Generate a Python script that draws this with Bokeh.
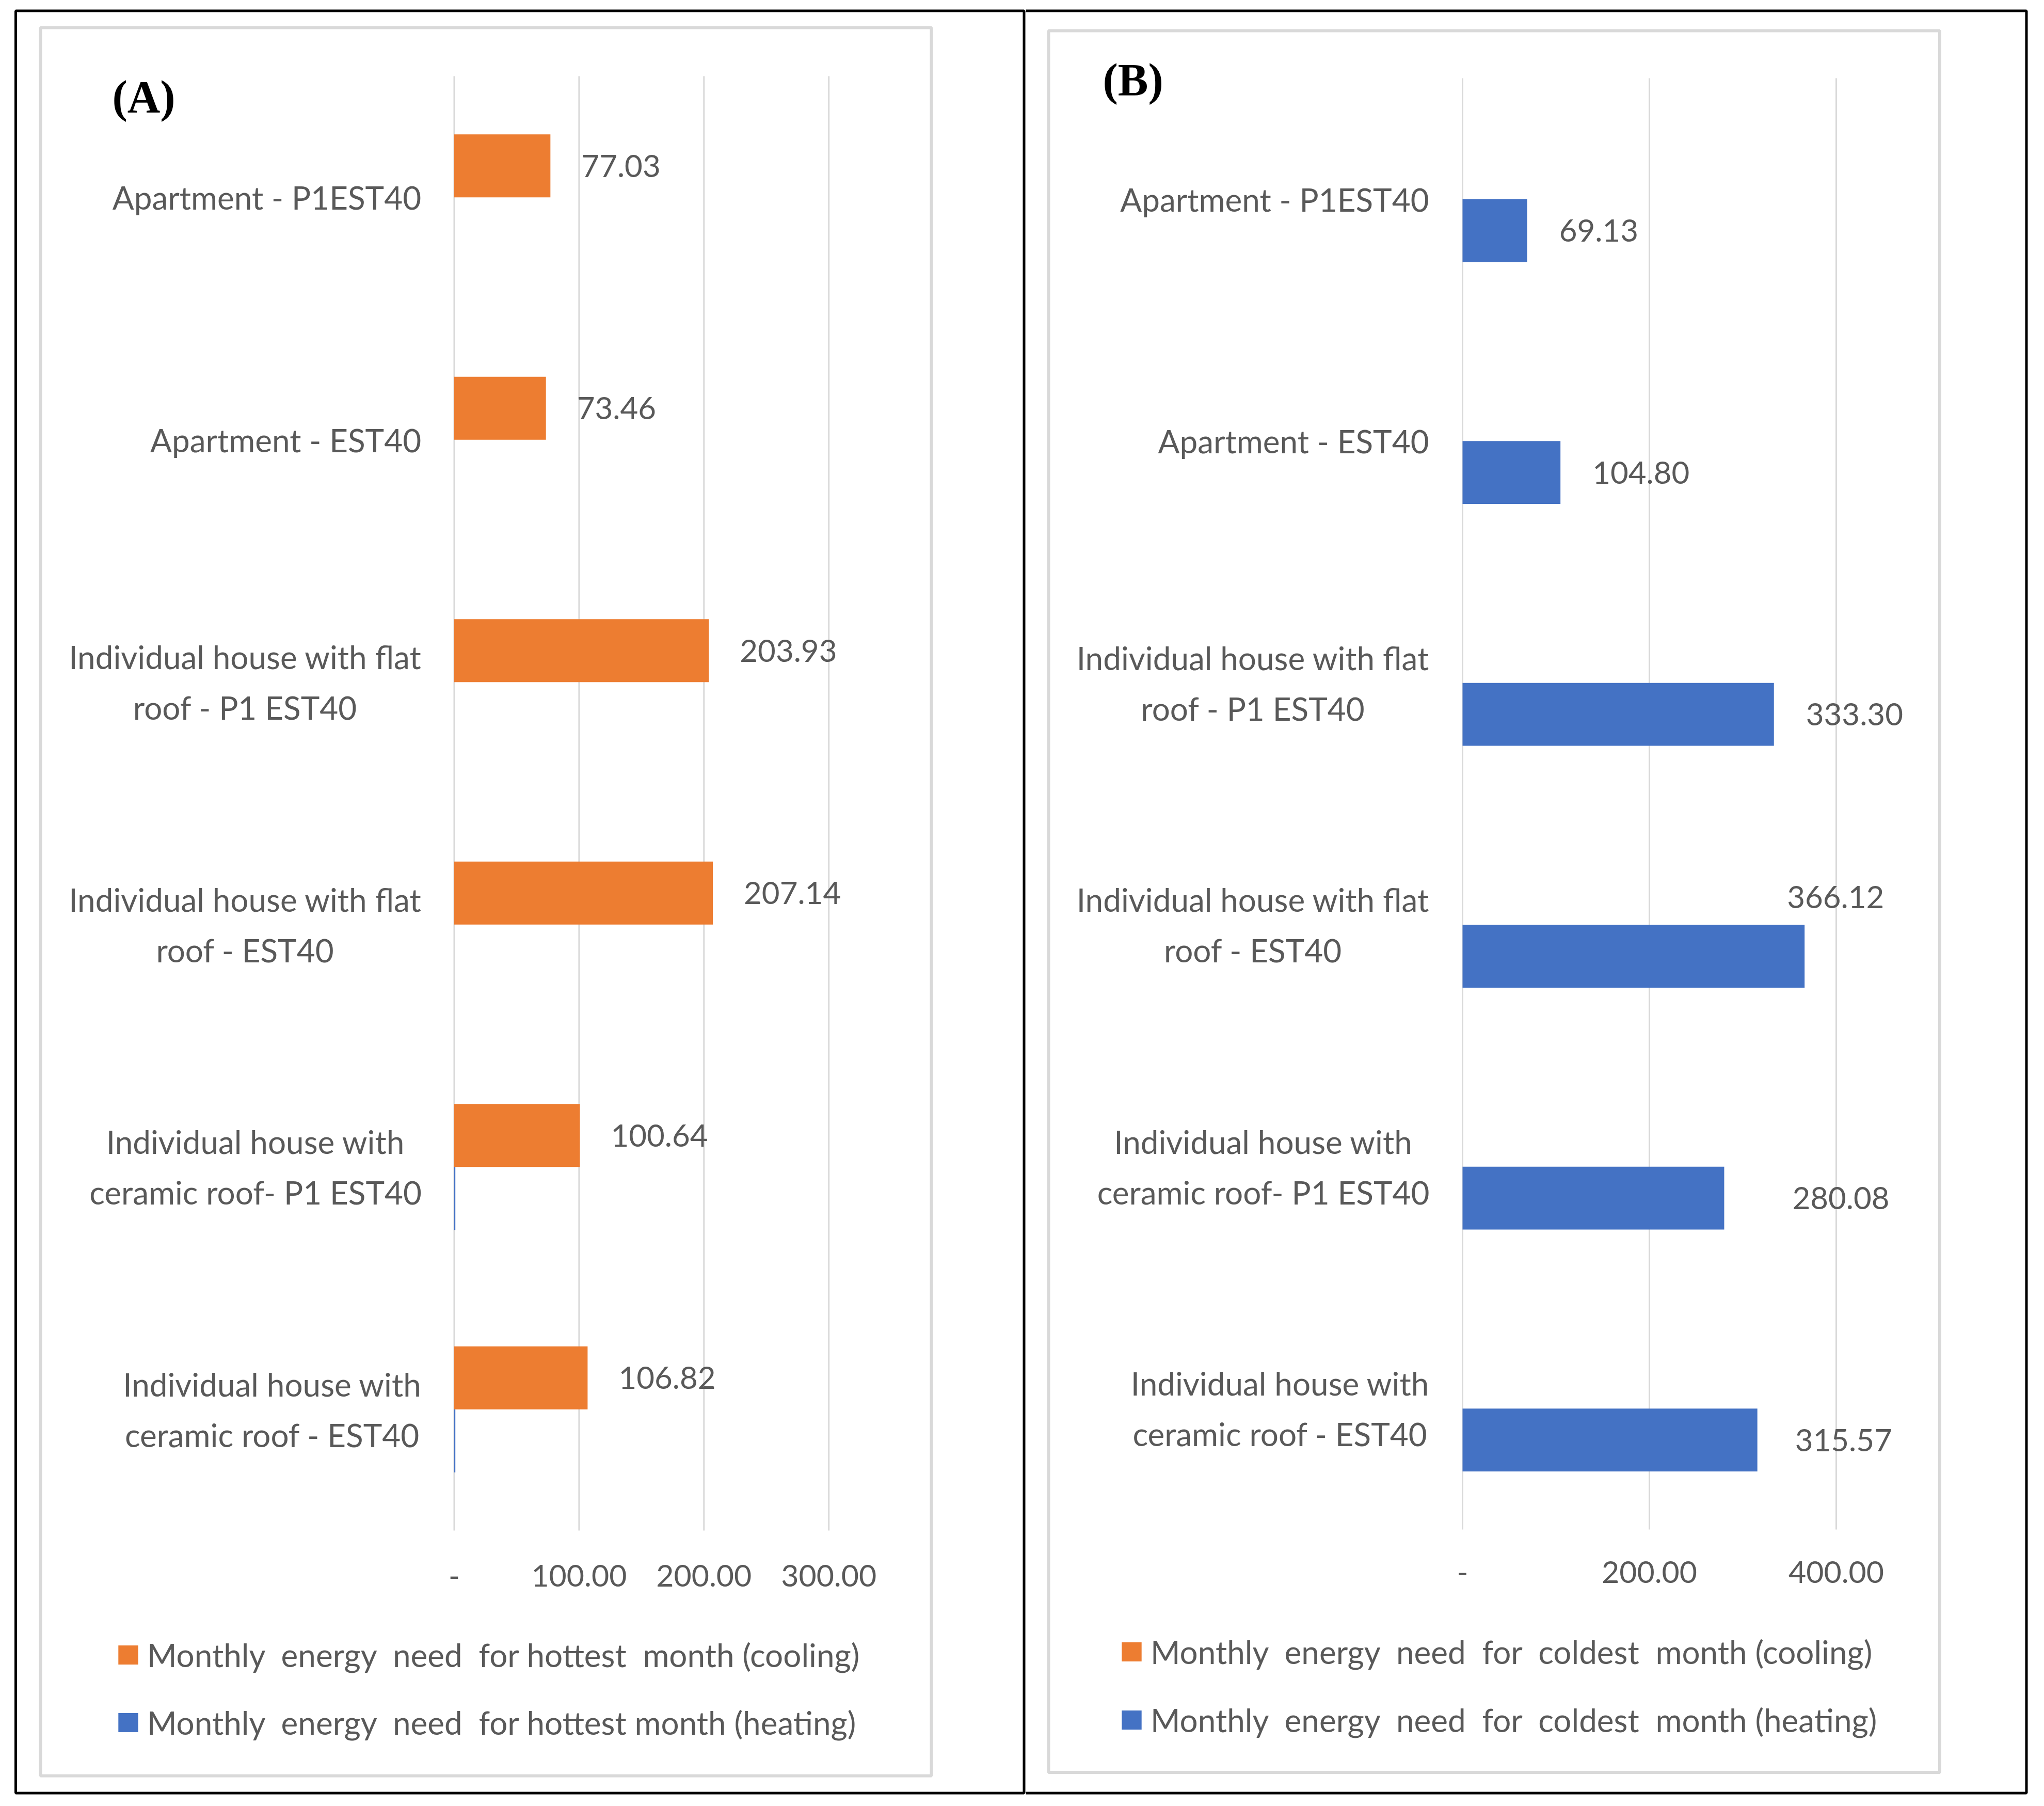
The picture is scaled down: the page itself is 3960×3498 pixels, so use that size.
from bokeh.plotting import figure
from bokeh.models import (ColumnDataSource, Range1d, FixedTicker, LinearAxis,
                          LabelSet, Legend, LegendItem, BoxAnnotation, Label)
from bokeh.layouts import row
from bokeh.embed import file_html
from bokeh.resources import INLINE
from bokeh.core.properties import value

# ---------------- data ----------------
categories = [
    "Apartment  - P1EST40",
    "Apartment  - EST40",
    "Individual house with flat\nroof - P1 EST40",
    "Individual house with flat\nroof - EST40",
    "Individual house with\nceramic roof- P1 EST40",
    "Individual house with\nceramic roof - EST40",
]
cooling_hottest = [77.03, 73.46, 203.93, 207.14, 100.64, 106.82]
heating_hottest = [0.0, 0.0, 0.0, 0.0, 0.9, 0.9]
cooling_coldest = [0.0, 0.0, 0.0, 0.0, 0.0, 0.0]
heating_coldest = [69.13, 104.80, 333.30, 366.12, 280.08, 315.57]

ticks_A = [0, 100, 200, 300]
tick_labels_A = ["-", "100.00", "200.00", "300.00"]
ticks_B = [0, 200, 400]
tick_labels_B = ["-", "200.00", "400.00"]

legend_A = ["Monthly  energy  need  for hottest  month (cooling)",
            "Monthly  energy  need  for hottest month (heating)"]
legend_B = ["Monthly  energy  need  for  coldest  month (cooling)",
            "Monthly  energy  need  for  coldest  month (heating)"]

# ---------------- styles ----------------
ORANGE = "#ED7D31"
BLUE = "#4472C4"
TXT = "#595959"
GRID = "#D9D9D9"
FONT = "Lato"
H = 3478
BAR_H = 0.26
DODGE = 0.13
SPACE_W = 15  # px lost when a doubled space collapses in the svg text

# label offsets (screen px) for the value labels of panel B
label_dx_B = [62, 62, 62, -34, 132, 73]
label_dy_B = [0, 0, 0, 115, 0, 0]


class Panel:
    """A figure whose frame is the whole canvas; x0/sx map data 0 and px per unit,
    y0/sy map the top of the category band and px per category."""

    def __init__(self, width, x0, sx, y0, sy):
        self.W, self.x0, self.sx, self.y0, self.sy = width, x0, sx, y0, sy
        self.p = figure(width=width, height=H, output_backend="svg", toolbar_location=None,
                        x_range=Range1d(-x0 / sx, (width - x0) / sx),
                        y_range=Range1d((H - y0) / sy, -y0 / sy),
                        x_axis_location=None, y_axis_location=None,
                        min_border=0)
        p = self.p
        p.min_border_left = p.min_border_right = p.min_border_top = p.min_border_bottom = 0
        p.outline_line_color = None
        p.background_fill_color = "white"
        p.border_fill_color = "white"
        p.grid.visible = False

    def dx(self, cx):
        return (cx - self.x0) / self.sx

    def dy(self, cy):
        return (cy - self.y0) / self.sy

    def box(self, l, r, t, b, color, w):
        self.p.add_layout(BoxAnnotation(left=self.dx(l), right=self.dx(r),
                                        top=self.dy(t), bottom=self.dy(b),
                                        fill_color=None, fill_alpha=0,
                                        line_color=color, line_alpha=1.0,
                                        line_width=w, level="overlay"))


def build(panel, cool, heat, labelled, ldx, ldy, ticks, tick_labels, legend_labels,
          tick_standoff, cat_standoff, legend_left, legend_rows, tag, tag_pos):
    p = panel.p
    n = len(categories)
    centers = [i + 0.5 for i in range(n)]

    # grid lines (only across the category band)
    p.segment(x0=ticks, x1=ticks, y0=[0] * len(ticks), y1=[n] * len(ticks),
              line_color=GRID, line_width=3)

    src = ColumnDataSource(dict(
        yc=[c - DODGE for c in centers], yh=[c + DODGE for c in centers],
        cool=cool, heat=heat,
        lab=[f"{v:.2f}" for v in labelled], val=labelled, dx=ldx, dy=ldy))
    r_cool = p.hbar(y="yc", left=0, right="cool", height=BAR_H,
                    fill_color=ORANGE, line_color=None, source=src)
    r_heat = p.hbar(y="yh", left=0, right="heat", height=BAR_H,
                    fill_color=BLUE, line_color=None, source=src)
    ycol = "yc" if labelled is cool else "yh"
    p.add_layout(LabelSet(x="val", y=ycol, text="lab", x_offset="dx", y_offset="dy",
                          source=src, text_font=value(FONT), text_font_size=value("60px"),
                          text_color=TXT, text_baseline="middle", text_align="left"))

    # category labels (right edge at fixed distance left of the zero line, lines centred)
    cat_src = ColumnDataSource(dict(
        x=[0] * n, y=centers, text=categories,
        align=["center" if "\n" in c else "right" for c in categories],
        xoff=[-cat_standoff + SPACE_W * c.count("  ") for c in categories]))
    p.text(x="x", y="y", text="text", source=cat_src, x_offset="xoff",
           anchor=value("center_right"), text_align="align",
           text_baseline=value("middle"), text_font=value(FONT),
           text_font_size=value("62px"), text_color=TXT, text_line_height=1.33)

    # value axis drawn at the bottom of the category band
    ax = LinearAxis(fixed_location=n, ticker=FixedTicker(ticks=ticks),
                    major_label_overrides=dict(zip(ticks, tick_labels)))
    ax.axis_line_color = None
    ax.major_tick_line_color = None
    ax.minor_tick_line_color = None
    ax.major_label_standoff = tick_standoff
    ax.major_label_text_font = FONT
    ax.major_label_text_font_size = "59px"
    ax.major_label_text_color = TXT
    p.add_layout(ax, "below")

    # legend
    item_h = 74
    spacing = (legend_rows[1] - legend_rows[0]) - item_h
    bottom = legend_rows[1] + item_h / 2
    legend = Legend(items=[LegendItem(label=legend_labels[0], renderers=[r_cool]),
                           LegendItem(label=legend_labels[1], renderers=[r_heat])],
                    location=(legend_left - 5, H - bottom), orientation="vertical",
                    border_line_color=None, background_fill_alpha=0,
                    padding=0, margin=0, spacing=int(spacing),
                    glyph_width=48, glyph_height=46, label_standoff=13,
                    label_text_font=FONT, label_text_font_size="62px",
                    label_text_color=TXT)
    p.add_layout(legend)

    p.add_layout(Label(x=panel.dx(tag_pos[0]), y=panel.dy(tag_pos[1]), text=tag,
                       text_font="Liberation Serif", text_font_style="bold",
                       text_font_size="88px", text_color="black",
                       text_baseline="middle", text_align="left"))


# ---------------- panel A ----------------
A = Panel(1987, 879.5, 2.419, 147, 469.5)
A.box(78, 1804, 53, 3439, GRID, 6)
A.box(30, 1983.5, 20.5, 3472.5, "black", 5)
build(A, cooling_hottest, heating_hottest, cooling_hottest, [60] * 6, [0] * 6,
      ticks_A, tick_labels_A, legend_A, 60, 63, 229, (3205, 3336), "(A)", (217, 187))

# ---------------- panel B ----------------
B = Panel(1957, 846, 1.81, 151, 468.5)
B.box(44, 1770.5, 59, 3432.5, GRID, 6)
B.box(-3.5, 1938.5, 20.5, 3472.5, "black", 5)
build(B, cooling_coldest, heating_coldest, heating_coldest, label_dx_B, label_dy_B,
      ticks_B, tick_labels_B, legend_B, 55, 64, 186, (3199, 3331), "(B)", (149, 154))

layout = row(A.p, B.p, spacing=0)
open("out.html", "w").write(file_html(layout, INLINE))
